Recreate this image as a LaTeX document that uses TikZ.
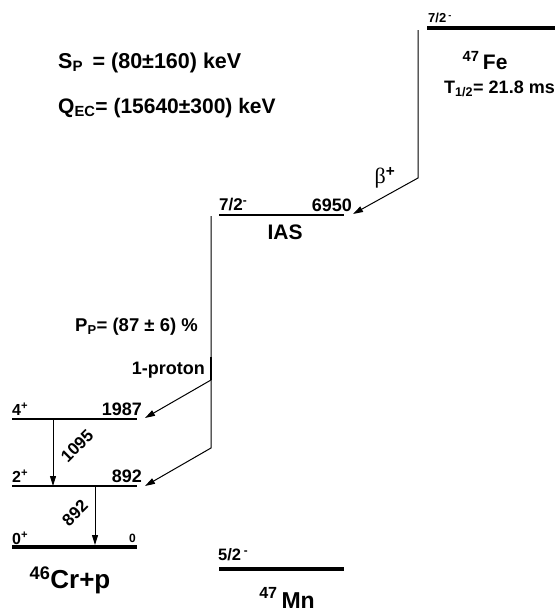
\documentclass[tikz,border=0pt]{standalone}
\usepackage{fontspec}
\setmainfont{Liberation Sans}
\usetikzlibrary{arrows.meta}
\newfontfamily\greekserif{Liberation Serif}
\newcommand{\fsz}[1]{\fontsize{#1}{#1}\selectfont\bfseries}
\tikzset{
  lbl/.style={inner sep=0pt, font=\fsz{#1}},
  lvl/.style={line width=1.3pt},
  gslevel/.style={line width=4.5pt},
  trans/.style={line width=1pt, -{Triangle[length=10pt,width=6pt]}},
}
\begin{document}
\begin{tikzpicture}[x=1pt,y=-1pt]
\useasboundingbox (0,0) rectangle (556,613);
% coordinates of levels
\coordinate (fe1) at (427,28); \coordinate (fe2) at (555,28);
\coordinate (ias1) at (219,215); \coordinate (ias2) at (344,215);
\coordinate (l4a) at (12,419); \coordinate (l4b) at (137,419);
\coordinate (l2a) at (12,486); \coordinate (l2b) at (137,486);
\coordinate (l0a) at (12,547); \coordinate (l0b) at (137,547);
\coordinate (mn1) at (219,569); \coordinate (mn2) at (344,569);
% levels
\draw[gslevel] (fe1) -- (fe2);
\draw[lvl] (ias1) -- (ias2);
\draw[lvl] (l4a) -- (l4b);
\draw[lvl] (l2a) -- (l2b);
\draw[gslevel] (l0a) -- (l0b);
\draw[gslevel] (mn1) -- (mn2);
% beta decay
\coordinate (bstart) at (418,30);
\coordinate (bbend) at (418,178);
\coordinate (btip) at (353,214);
\draw[trans] (bstart) -- (bbend) -- (btip);
% proton branches
\coordinate (pstart) at (211,216);
\coordinate (pmid) at (211,380);
\coordinate (pbend) at (211,448);
\coordinate (p4tip) at (145,418);
\coordinate (p2tip) at (145,486);
\draw[trans] (pstart) -- (pbend) -- (p2tip);
\draw[trans] (pmid) -- (p4tip);
\draw[line width=1.25pt] (211,357) -- (pmid);
% gammas
\coordinate (g1a) at (53,419); \coordinate (g1b) at (53,486);
\coordinate (g2a) at (95,486); \coordinate (g2b) at (95,545);
\draw[trans] (g1a) -- (g1b);
\draw[trans] (g2a) -- (g2b);
% texts
\node[lbl=21.5, anchor=west] (sp) at (58,63) {S\textsubscript{P}\, = (80±160) keV};
\node[lbl=21, anchor=west] (qec) at (58,108) {Q\textsubscript{EC}= (15640±300) keV};
\node[lbl=13, anchor=west] (fespin) at (428,18) {7/2\,\textsuperscript{-}};
\node[lbl=21, anchor=base] (fe) at (485,69) {\textsuperscript{47}\,Fe};
\node[lbl=18, anchor=east] (thalf) at (555,89) {T\textsubscript{1/2}= 21.8 ms};
\node[inner sep=0pt, font=\fontsize{22}{22}\selectfont] (beta) at (385,178) {{\greekserif β}\textsuperscript{\bfseries +}};
\node[lbl=17, anchor=west] (iasspin) at (219,205) {7/2\textsuperscript{-}};
\node[lbl=18, anchor=east] (iasE) at (352,205) {6950};
\node[lbl=21] (ias) at (285,232) {IAS};
\node[lbl=18.5, anchor=east] (pp) at (198,327) {P\textsubscript{P}= (87 ± 6) \%};
\node[lbl=18, anchor=east] (onep) at (205,370) {1-proton};
\node[lbl=16, anchor=west] (s4) at (12,409) {4\textsuperscript{+}};
\node[lbl=18, anchor=east] (e4) at (142,409) {1987};
\node[lbl=16, anchor=west] (s2) at (12,476) {2\textsuperscript{+}};
\node[lbl=18, anchor=east] (e2) at (142,476) {892};
\node[lbl=17, rotate=45] (g1095) at (77,446) {1095};
\node[lbl=17, rotate=45] (g892) at (75,513) {892};
\node[lbl=16, anchor=west] (s0) at (12,538) {0\textsuperscript{+}};
\node[lbl=12, anchor=east] (e0) at (136,538) {0};
\node[lbl=26] (cr) at (70,580) {\textsuperscript{46}Cr+p};
\node[lbl=16.5, anchor=west] (mnspin) at (218,555) {5/2\,\textsuperscript{-}};
\node[lbl=23, anchor=base] (mn) at (287,608) {\textsuperscript{47}\,Mn};
\end{tikzpicture}
\end{document}
